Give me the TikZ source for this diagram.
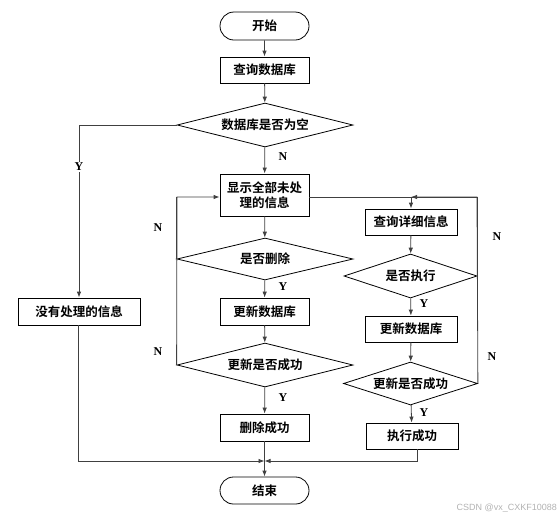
\documentclass[tikz,border=0pt]{standalone}
\usepackage{fontspec}
\setmainfont{Liberation Serif}
\newfontfamily\cjk{Noto Sans CJK SC}[BoldFont={Noto Sans CJK SC Bold}]
\newfontfamily\wm{Liberation Sans}
\usetikzlibrary{shapes.geometric,shapes.misc,arrows.meta}
\tikzset{
  base/.style={draw=black, line width=0.8pt, inner sep=0pt, align=center,
    font=\cjk\bfseries\fontsize{12.5}{15}\selectfont},
  proc/.style={base, rectangle, minimum width=89pt, minimum height=27pt},
  term/.style={base, rounded rectangle, minimum width=89pt, minimum height=28pt},
  dec/.style={base, diamond, aspect=4},
  conn/.style={draw=black!75, line width=0.8pt},
  arr/.style={conn, -{Latex[length=6pt,width=4.5pt]}},
  lab/.style={font=\bfseries\fontsize{12}{13}\selectfont, inner sep=1pt},
}
\begin{document}
\begin{tikzpicture}[x=1pt,y=-1pt]
\useasboundingbox (0,0) rectangle (560,520);
% nodes
\node[term] (start) at (264.5,26) {开始};
\node[proc, minimum height=26pt] (q1) at (264.5,70) {查询数据库};
\node[dec, minimum width=176pt, minimum height=44pt] (d1) at (265,125) {数据库是否为空};
\node[proc, minimum height=42pt] (show) at (264.5,195) {显示全部未处\\理的信息};
\node[dec, minimum width=176pt, minimum height=42pt] (d2) at (265,259) {是否删除};
\node[proc] (up1) at (264.5,311.5) {更新数据库};
\node[dec, minimum width=176pt, minimum height=44pt] (d3) at (265,365) {更新是否成功};
\node[proc] (del) at (264.5,427.5) {删除成功};
\node[term, minimum height=27pt] (end) at (264.5,490.5) {结束};
\node[proc, minimum width=122pt] (none) at (79,311.5) {没有处理的信息};
\node[proc, minimum width=92pt, minimum height=26pt] (q3) at (411,222) {查询详细信息};
\node[dec, minimum width=133pt, minimum height=44pt] (d4) at (410.5,276) {是否执行};
\node[proc, minimum width=92pt, minimum height=26pt] (up2) at (411,329) {更新数据库};
\node[dec, minimum width=134pt, minimum height=43pt] (d5) at (410.5,383.5) {更新是否成功};
\node[proc, minimum width=92pt, minimum height=26pt] (exec) at (412,436) {执行成功};
% helper coordinates
\coordinate (m) at (264.5,461);
\coordinate (t) at (411,197);
\coordinate (tr) at (477,197);
\coordinate (lt) at (177,197);
\coordinate (yl) at (79,125);
% main column
\draw[arr] (start) -- (q1);
\draw[arr] (q1) -- (d1);
\draw[arr] (d1) -- (show);
\draw[arr] (show) -- (d2);
\draw[arr] (d2) -- (up1);
\draw[arr] (up1) -- (d3);
\draw[arr] (d3) -- (del);
\draw[arr] (del) -- (end);
% Y branch left
\draw[arr] (d1.west) -- (yl) -- (none.north);
\draw[arr] (none.south) ++(-1,0) |- (m);
% left loops
\draw[conn] (d2.west) -- (d2.west |- lt);
\draw[arr] (d3.west) -- (lt) -- (show.west |- lt);
% right column
\draw[conn] (show.east |- t) -- (tr);
\draw[arr] (t) -- (q3.north);
\draw[conn] (d4.east) -- (d4.east |- tr);
\draw[arr] (d5.east) -- (tr) -- (t);
\draw[arr] (q3) -- (d4);
\draw[arr] (d4) -- (up2);
\draw[arr] (up2) -- (d5);
\draw[arr] (d5) -- (exec);
\draw[arr] (exec.south) ++(5,0) |- (m);
% labels
\node[lab] (nN1) at (283,157) {N};
\node[lab, fill=white] (nY1) at (79,167) {Y};
\node[lab] (nN2) at (158,228) {N};
\node[lab] (nN3) at (158,352) {N};
\node[lab] (nY2) at (283,287) {Y};
\node[lab] (nY3) at (283,398) {Y};
\node[lab] (nN4) at (497,237) {N};
\node[lab] (nN5) at (492,357) {N};
\node[lab] (nY4) at (424,304) {Y};
\node[lab] (nY5) at (424,413) {Y};
\node[font=\wm\fontsize{9}{10}\selectfont, text=black!30, anchor=east, inner sep=0pt] (wmk) at (557,508) {CSDN @vx\_CXKF10088};
\end{tikzpicture}
\end{document}
